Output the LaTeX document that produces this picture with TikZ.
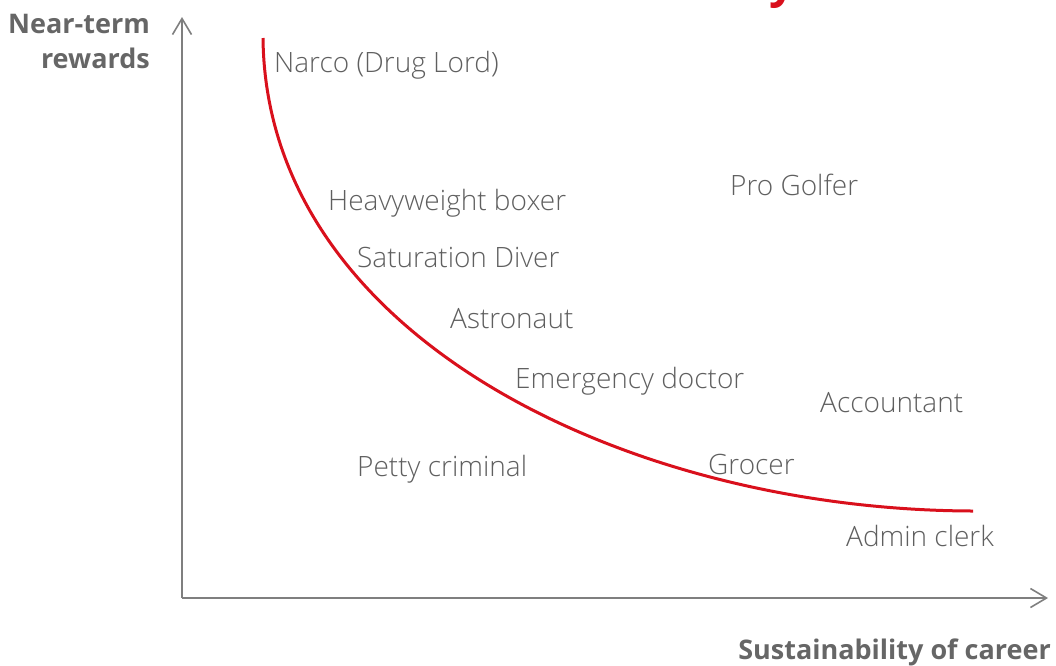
\documentclass[tikz,border=0pt]{standalone}
\usepackage{fontspec}
\setmainfont{Open Sans}
\newfontfamily\lightfont{Open Sans Light}
\usetikzlibrary{arrows.meta}
\definecolor{axisgray}{HTML}{7F7F7F}
\definecolor{labelgray}{HTML}{5F5F5F}
\definecolor{titlegray}{HTML}{666666}
\definecolor{curvered}{HTML}{D9101C}
\begin{document}
\begin{tikzpicture}[x=1pt,y=-1pt,
  axis/.style={draw=axisgray,line width=1.8pt,-{Straight Barb[length=16pt,width=19pt,line width=1.6pt]}},
  job/.style={anchor=base west,inner sep=0pt,text=labelgray,font=\lightfont\fontsize{28}{33}\selectfont},
  axislabel/.style={inner sep=0pt,text=titlegray,font=\fontsize{27}{32}\selectfont\bfseries},
  curve/.style={draw=curvered,line width=3pt}]
\useasboundingbox (0,0) rectangle (1056,665);
% tail of the heading above the chart
\node[anchor=base,inner sep=0pt,text=curvered,font=\fontsize{46}{50}\selectfont\bfseries] (head) at (783,-3) {y};
% axes
\coordinate (o) at (182,598);
\coordinate (ytip) at (182,17);
\coordinate (xtip) at (1048,598);
\draw[axis] (o) -- (ytip);
\draw[axis] (o) -- (xtip);
\node[axislabel,anchor=base east] (ylab) at (150,33) {Near-term};
\node[axislabel,anchor=base east] (ylab2) at (150,68) {rewards};
\node[axislabel,anchor=base east] (xlab) at (1051,659) {Sustainability of career};
% trade-off curve
\coordinate (cstart) at (263,38);
\coordinate (cend) at (973,511);
\draw[curve] (cstart) .. controls (266,335) and (625,510) .. (cend);
% careers
\node[job] (narco) at (274,72) {Narco (Drug Lord)};
\node[job] (boxer) at (328,210) {Heavyweight boxer};
\node[job] (diver) at (357,267) {Saturation Diver};
\node[job] (golfer) at (730,195) {Pro Golfer};
\node[job] (astro) at (450,328) {Astronaut};
\node[job] (doctor) at (515,388) {Emergency doctor};
\node[job] (account) at (820,412) {Accountant};
\node[job] (petty) at (357,476) {Petty criminal};
\node[job] (grocer) at (708,474) {Grocer};
\node[job] (clerk) at (846,546) {Admin clerk};
\end{tikzpicture}
\end{document}
